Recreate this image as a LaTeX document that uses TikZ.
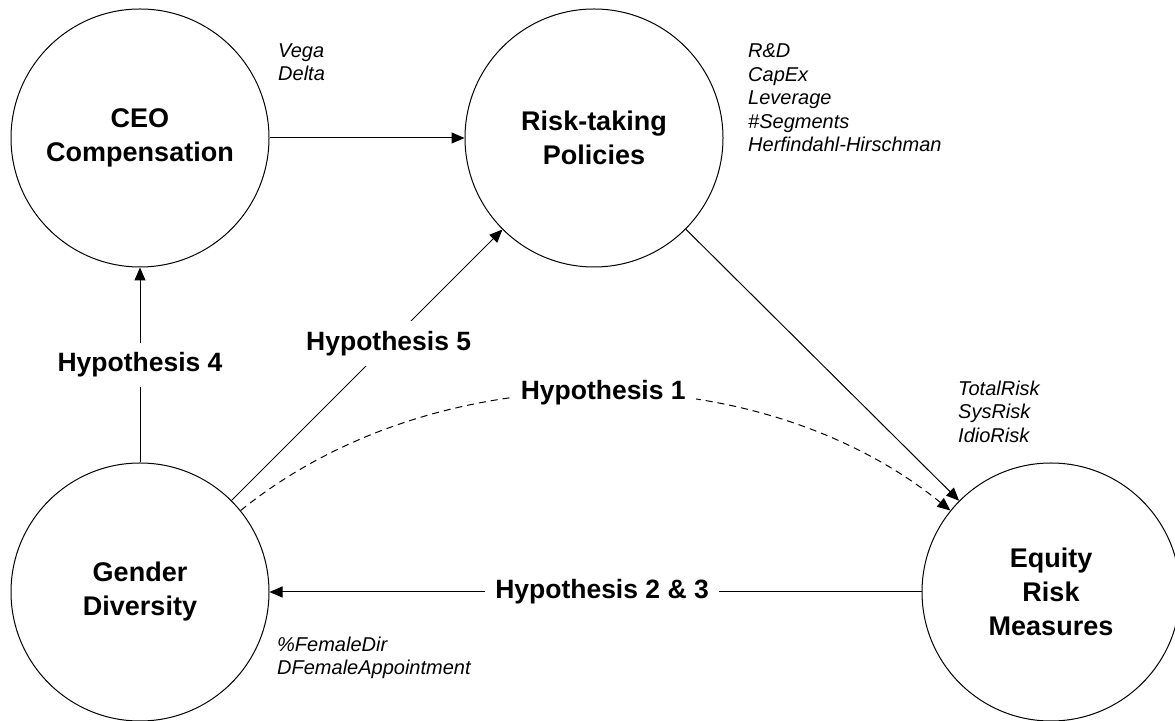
\documentclass[tikz,border=0pt]{standalone}
\usepackage{fontspec}
\setmainfont{Liberation Sans}
\usepackage{xcolor}
\definecolor{inkdark}{HTML}{000000}
\usetikzlibrary{arrows.meta,positioning}

\begin{document}
\begin{tikzpicture}[
    x=1pt, y=1pt,
    construct/.style={circle, draw=inkdark, fill=white, minimum size=258pt, inner sep=0pt, line width=1pt, text=inkdark, font=\fontsize{27}{34}\selectfont\bfseries, align=center},
    hyp/.style={fill=white, inner sep=10pt, text=inkdark, font=\fontsize{26.5}{30}\selectfont\bfseries},
    proxy/.style={anchor=north west, inner sep=0pt, align=left, text=inkdark, font=\fontsize{20}{23.5}\selectfont\itshape},
    link/.style={draw=inkdark, line width=1pt, -{Triangle[length=13pt,width=11pt]}},
  ]
    \useasboundingbox (0,0) rectangle (1175,720);
    \node[construct] (ceo) at (140,582) {CEO\\Compensation};
    \node[construct] (risk) at (594,582) {Risk-taking\\Policies};
    \node[construct] (gender) at (140,128) {Gender\\Diversity};
    \node[construct] (equity) at (1051,128) {Equity\\Risk\\Measures};
    % Links
    \draw[link] (ceo) -- (risk);
    \draw[link] (risk) -- (equity);
    \draw[link] (gender) -- node[hyp] (h4) {Hypothesis 4} (ceo);
    \draw[link] (gender) -- node[hyp, pos=0.58] (h5) {Hypothesis 5} (risk);
    \draw[link] (equity) -- node[hyp, pos=0.49] (h23) {Hypothesis 2 \& 3} (gender);
    \draw[link, dash pattern=on 7pt off 5pt] (gender) to[out=39, in=141, distance=250pt] node[hyp, pos=0.51] (h1) {Hypothesis 1} (equity);
    % Labels
    \node[proxy] (comp) at (278,676.5) {Vega\\Delta};
    \node[proxy] (policy) at (748,676.5) {R\&D\\CapEx\\Leverage\\\#Segments\\Herfindahl-Hirschman};
    \node[proxy] (measure) at (958,339.5) {TotalRisk\\SysRisk\\IdioRisk};
    \node[proxy] (diversity) at (277,83.5) {\%FemaleDir\\DFemaleAppointment};
\end{tikzpicture}
\end{document}
